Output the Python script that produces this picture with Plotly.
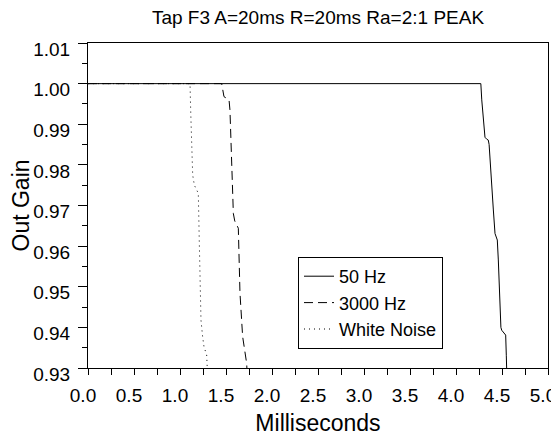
import plotly.graph_objects as go

# Data
hz50_x = [0.0, 4.27, 4.28, 4.30, 4.315, 4.335, 4.351, 4.36, 4.38, 4.406, 4.424, 4.436, 4.449,
          4.46, 4.47, 4.478, 4.488, 4.497, 4.515, 4.533, 4.54, 4.547, 4.554]
hz50_y = [1.0, 1.0, 0.996, 0.9894, 0.9868, 0.9863, 0.9861, 0.985, 0.977, 0.9689, 0.9631, 0.9620, 0.9615,
          0.9566, 0.949, 0.9418, 0.9400, 0.9393, 0.9388, 0.9385, 0.9381, 0.933, 0.927]

hz3000_x = [0.0, 1.453, 1.478, 1.533, 1.543, 1.562, 1.58, 1.595, 1.609, 1.634, 1.652, 1.681, 1.725, 1.732]
hz3000_y = [1.0, 1.0, 0.9968, 0.996, 0.9935, 0.9812, 0.968, 0.9662, 0.9656, 0.9644, 0.9484, 0.9377, 0.9311, 0.927]

wn_x = [0.0, 1.109, 1.116, 1.127, 1.138, 1.156, 1.199, 1.21, 1.217, 1.228, 1.246, 1.261, 1.29, 1.297, 1.30]
wn_y = [1.0, 1.0, 0.9935, 0.9812, 0.9775, 0.975, 0.973, 0.9607, 0.9484, 0.9418, 0.9377, 0.9352, 0.9332, 0.9307, 0.928]

series_names = ["50 Hz", "3000 Hz", "White Noise"]

title_text = "Tap F3 A=20ms R=20ms Ra=2:1 PEAK"
x_title = "Milliseconds"
y_title = "Out Gain"

FONT = "Liberation Sans, Arial, sans-serif"
FS = 19

# the page body adds an 8px offset, so the figure is drawn 8px smaller and shifted
W, H = 551, 428
L, R, T, B = 80, 11, 35, 68

fig = go.Figure()
fig.add_trace(go.Scatter(x=hz50_x, y=hz50_y, mode="lines", name=series_names[0],
                         line=dict(color="black", width=1)))
fig.add_trace(go.Scatter(x=hz3000_x, y=hz3000_y, mode="lines", name=series_names[1],
                         line=dict(color="black", width=1, dash="9px,5px")))
fig.add_trace(go.Scatter(x=wn_x, y=wn_y, mode="lines", name=series_names[2],
                         line=dict(color="black", width=1, dash="1px,4px")))

fig.update_layout(
    width=W, height=H,
    margin=dict(l=L, r=R, t=T, b=B, autoexpand=False),
    paper_bgcolor="white", plot_bgcolor="white",
    font=dict(family=FONT, size=FS, color="black"),
    title=dict(text=title_text, x=(L + 230) / W, xanchor="center", y=1 - 9.5 / H, yanchor="middle",
               font=dict(size=FS, family=FONT, color="black"), automargin=False),
    showlegend=True,
    legend=dict(x=(298 - 88) / 460, y=(368 - 257) / 325, xanchor="left", yanchor="top",
                bordercolor="black", borderwidth=1, bgcolor="white", itemwidth=30,
                font=dict(size=18, family=FONT, color="black"), tracegroupgap=0),
)

fig.update_xaxes(
    range=[0, 5], dtick=0.5, tick0=0, tickformat=".1f", automargin=True,
    showgrid=False, zeroline=False,
    showline=True, linecolor="black", linewidth=1, mirror=True,
    ticks="outside", ticklen=6, tickcolor="black", tickwidth=1,
    ticklabelstandoff=4, ticklabelshift=-5, ticklabeloverflow="allow",
    minor=dict(dtick=0.25, tick0=0, ticks="outside", ticklen=6, tickcolor="black", tickwidth=1, showgrid=False),
    title=dict(text=x_title, standoff=12),
)
fig.update_yaxes(
    range=[0.93, 1.01], dtick=0.01, tick0=0.93, tickformat=".2f", automargin=True,
    showgrid=False, zeroline=False,
    showline=True, linecolor="black", linewidth=1, mirror=True,
    ticks="outside", ticklen=9, tickcolor="black", tickwidth=1,
    ticklabelstandoff=4, ticklabelshift=6, ticklabeloverflow="allow",
    minor=dict(dtick=0.005, tick0=0.93, ticks="outside", ticklen=5, tickcolor="black", tickwidth=1, showgrid=False),
    title=dict(text=y_title, standoff=2),
)

fig.write_html("out.html")
